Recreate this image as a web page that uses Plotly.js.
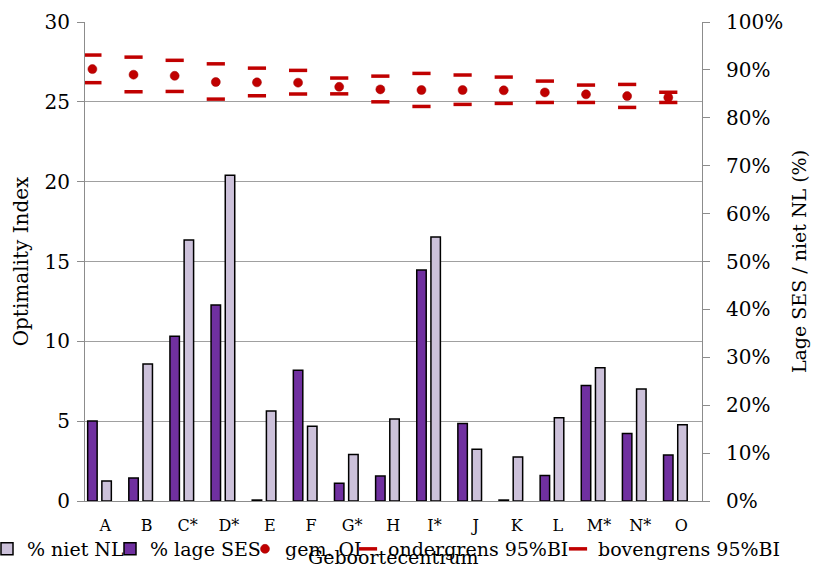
<!DOCTYPE html>
<html>
<head>
<meta charset="utf-8">
<script src="https://cdn.plot.ly/plotly-3.0.1.min.js"></script>
<style>html,body{margin:0;padding:0;background:#fff;}#chart{width:819px;height:569px;}</style>
</head>
<body>
<div id="chart"></div>
<script>
// Data
const categories = ['A','B','C*','D*','E','F','G*','H','I*','J','K','L','M*','N*','O'];
const pctLageSES = [16.7, 4.8, 34.4, 40.9, 0.2, 27.3, 3.7, 5.2, 48.2, 16.2, 0.2, 5.3, 24.1, 14.1, 9.6];
const pctNietNL  = [4.2, 28.6, 54.5, 68.0, 18.8, 15.6, 9.7, 17.1, 55.1, 10.8, 9.2, 17.4, 27.8, 23.4, 15.9];
const gemOI      = [27.05, 26.7, 26.63, 26.24, 26.22, 26.2, 25.94, 25.78, 25.74, 25.74, 25.72, 25.59, 25.47, 25.36, 25.27];
const ondergrens = [26.2, 25.63, 25.65, 25.17, 25.38, 25.49, 25.5, 25.0, 24.71, 24.84, 24.9, 24.96, 24.96, 24.65, 24.96];
const bovengrens = [27.93, 27.8, 27.6, 27.38, 27.11, 26.97, 26.49, 26.61, 26.78, 26.68, 26.55, 26.3, 26.05, 26.09, 25.6];
const xTitle = 'Geboortecentrum';

const FONT = 'DejaVu Serif';
const RED = '#C00000';
const DARK = '#7030A0';
const LIGHT = '#CCC1DA';
// markers sit over the first bar of each group: the category axis is shifted
// by SHIFT, bars are offset accordingly and tick labels shifted back.
const SHIFT = 0.32;
const M = {l:85, r:117, t:22, b:68};
const PLOT_W = 819 - M.l - M.r;
const PLOT_H = 569 - M.t - M.b;
const CAT_PX = PLOT_W / categories.length;

const traces = [
  {type:'bar', name:'% lage SES', x:categories, y:pctLageSES, xaxis:'x', yaxis:'y2',
   offset:-0.435 + SHIFT, width:0.23, legend:'legend2',
   marker:{color:DARK, line:{color:'#000', width:1.5}}},
  {type:'bar', name:'% niet NL', x:categories, y:pctNietNL, xaxis:'x', yaxis:'y2',
   offset:-0.09 + SHIFT, width:0.23, legend:'legend',
   marker:{color:LIGHT, line:{color:'#000', width:1.5}}},
  {type:'scatter', mode:'markers', name:'gem. OI', x:categories, y:gemOI, xaxis:'x', yaxis:'y',
   legend:'legend3', marker:{symbol:'circle', size:9, color:RED, line:{color:'#A00000', width:0.5}}},
  {type:'scatter', mode:'markers', name:'ondergrens 95%BI', x:categories, y:ondergrens, xaxis:'x', yaxis:'y',
   legend:'legend4', marker:{symbol:'line-ew', size:13, line:{color:RED, width:3.5}}},
  {type:'scatter', mode:'markers', name:'bovengrens 95%BI', x:categories, y:bovengrens, xaxis:'x', yaxis:'y',
   legend:'legend5', marker:{symbol:'line-ew', size:13, line:{color:RED, width:3.5}}}
];

function leg(xpx, ind){
  return {x:xpx/819, xref:'container', y:1-549/569, yref:'container', yanchor:'middle', xanchor:'left',
    orientation:'h', bgcolor:'rgba(0,0,0,0)', borderwidth:0, indentation:ind||0,
    font:{family:FONT, size:19, color:'#000'}};
}

const layout = {
  width:819, height:569,
  margin:M,
  paper_bgcolor:'#fff', plot_bgcolor:'#fff',
  font:{family:FONT, color:'#000'},
  barmode:'overlay',
  showlegend:true,
  legend:leg(0, -13),
  legend2:leg(110),
  legend3:leg(245),
  legend4:leg(348),
  legend5:leg(558),
  xaxis:{type:'category', categoryarray:categories, range:[-0.5 + SHIFT, categories.length - 0.5 + SHIFT],
    automargin:false,
    showline:true, linecolor:'#8c8c8c', linewidth:1, ticks:'', showgrid:false,
    tickfont:{family:FONT, size:16, color:'#000'}, ticklabelstandoff:10,
    ticklabelshift:Math.round(SHIFT * CAT_PX)},
  yaxis:{range:[0,30], dtick:5, tick0:0, showgrid:true, gridcolor:'#a0a0a0', gridwidth:1, automargin:false,
    zeroline:false, showline:true, linecolor:'#8c8c8c', ticks:'outside', ticklen:7, tickcolor:'#8c8c8c',
    tickfont:{family:FONT, size:20, color:'#000'}, ticklabelstandoff:3,
    title:{text:'Optimality Index', font:{family:FONT, size:20, color:'#000'}, standoff:10}},
  yaxis2:{range:[0,100], dtick:10, tick0:0, ticksuffix:'%', overlaying:'y', side:'right', anchor:'x', automargin:false,
    showgrid:false, zeroline:false, showline:true, linecolor:'#8c8c8c', ticks:'outside', ticklen:7, tickcolor:'#8c8c8c',
    tickfont:{family:FONT, size:20, color:'#000'}, ticklabelstandoff:12,
    title:{text:'Lage SES / niet NL (%)', font:{family:FONT, size:19, color:'#000'}, standoff:10}},
  annotations:[{text:xTitle, xref:'paper', x:0.5, xanchor:'center',
    yref:'paper', y:-(557 - (569 - M.b)) / PLOT_H, yanchor:'middle', showarrow:false,
    font:{family:FONT, size:19, color:'#000'}}]
};

Plotly.newPlot('chart', traces, layout, {displayModeBar:false, staticPlot:true});
</script>
</body>
</html>
